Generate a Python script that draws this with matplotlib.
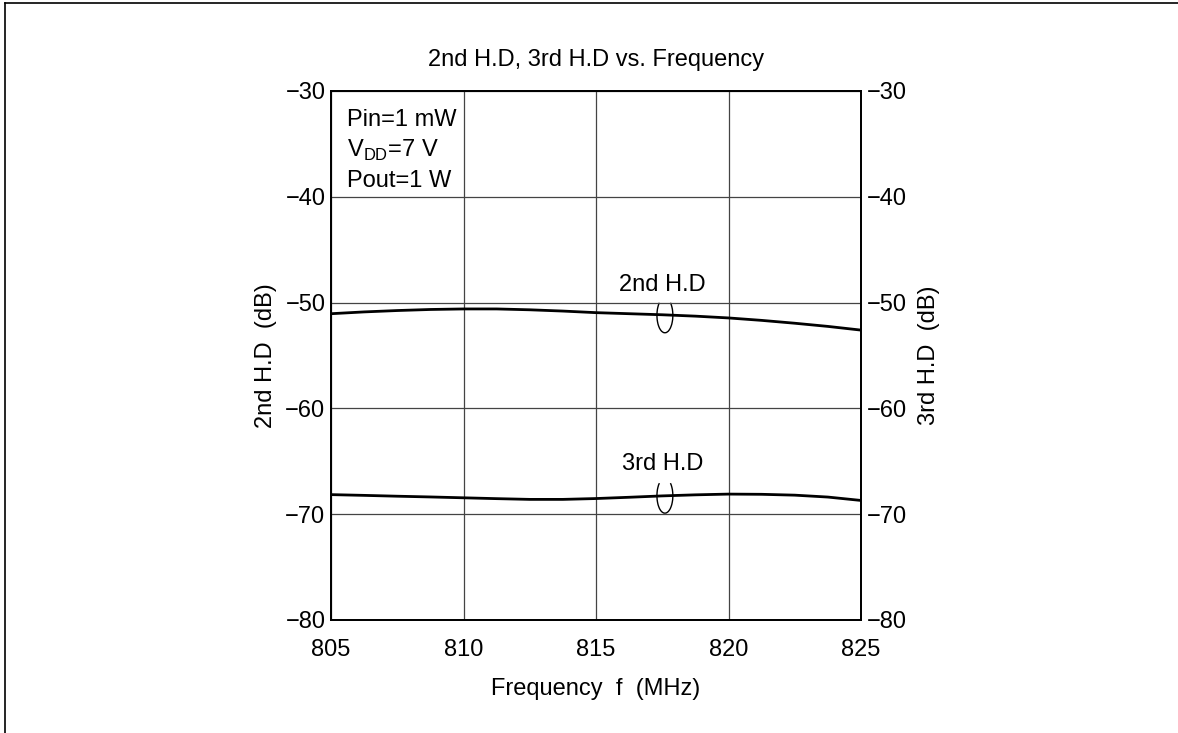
import matplotlib
matplotlib.use("Agg")
import matplotlib.pyplot as plt
from matplotlib.patches import Arc
from matplotlib.lines import Line2D

plt.rcParams['font.family'] = ['Liberation Sans', 'DejaVu Sans']

# harmonic distortion vs frequency
freq = [805, 806.25, 807.5, 808.75, 810, 811.25, 812.5, 813.75, 815,
        816.25, 817.5, 818.75, 820, 821.25, 822.5, 823.75, 825]
hd2 = [-51.05, -50.88, -50.75, -50.65, -50.6, -50.6, -50.68, -50.8, -50.95,
       -51.05, -51.15, -51.28, -51.45, -51.68, -51.95, -52.25, -52.6]
hd3 = [-68.15, -68.22, -68.3, -68.37, -68.45, -68.53, -68.6, -68.6, -68.52,
       -68.4, -68.27, -68.17, -68.1, -68.12, -68.2, -68.38, -68.7]

xticks = [805, 810, 815, 820, 825]
yticks = [-80, -70, -60, -50, -40, -30]
conditions = ["Pin=1 mW", "V$_{\\mathregular{DD}}$=7 V", "Pout=1 W"]

fs = 17
fig = plt.figure(figsize=(11.78, 7.33), dpi=100)
ax = fig.add_axes([331 / 1178, 1 - 620 / 733, 530 / 1178, 529 / 733])

ax.plot(freq, hd2, color='black', lw=2.0, solid_capstyle='butt')
ax.plot(freq, hd3, color='black', lw=2.0, solid_capstyle='butt')

ax.set_xlim(805, 825)
ax.set_ylim(-80, -30)
ax.set_xticks(xticks)
ax.set_yticks(yticks)
ax.tick_params(length=0, labelsize=fs)
ax.tick_params(axis='x', pad=14)
ax.tick_params(axis='y', pad=4)
ax.grid(True, color='#444444', lw=0.9)
for sp in ax.spines.values():
    sp.set_linewidth(1.3)

ax.set_title("2nd H.D, 3rd H.D vs. Frequency", fontsize=fs, pad=18)
ax.set_xlabel("Frequency  f  (MHz)", fontsize=fs, labelpad=12)
ax.set_ylabel("2nd H.D  (dB)", fontsize=fs, labelpad=6)

# right-hand scale for the 3rd harmonic
ax2 = ax.twinx()
ax2.set_ylim(-80, -30)
ax2.set_yticks(yticks)
ax2.tick_params(length=0, labelsize=fs, pad=4)
ax2.set_ylabel("3rd H.D  (dB)", fontsize=fs, labelpad=8)
for sp in ax2.spines.values():
    sp.set_linewidth(1.3)

# measurement conditions
for i, s in enumerate(conditions):
    ax.text(0.03, 0.945 - i * 0.058, s, transform=ax.transAxes, fontsize=fs,
            va='center', ha='left')

# curve labels with grouping loops
for lbl, yl, yc in [("2nd H.D", -48.3, -51.2), ("3rd H.D", -65.3, -68.25)]:
    ax.text(817.5, yl, lbl, fontsize=fs, ha='center', va='center')
    ax.add_patch(Arc((817.6, yc), 0.6, 3.3, theta1=100, theta2=440,
                     color='black', lw=1.0))

# page frame edges
fig.add_artist(Line2D([5 / 1178, 5 / 1178], [0, 1 - 3 / 733], color='black', lw=1.2))
fig.add_artist(Line2D([5 / 1178, 1], [1 - 3 / 733, 1 - 3 / 733], color='black', lw=1.2))

fig.savefig("out.png", dpi=100)
